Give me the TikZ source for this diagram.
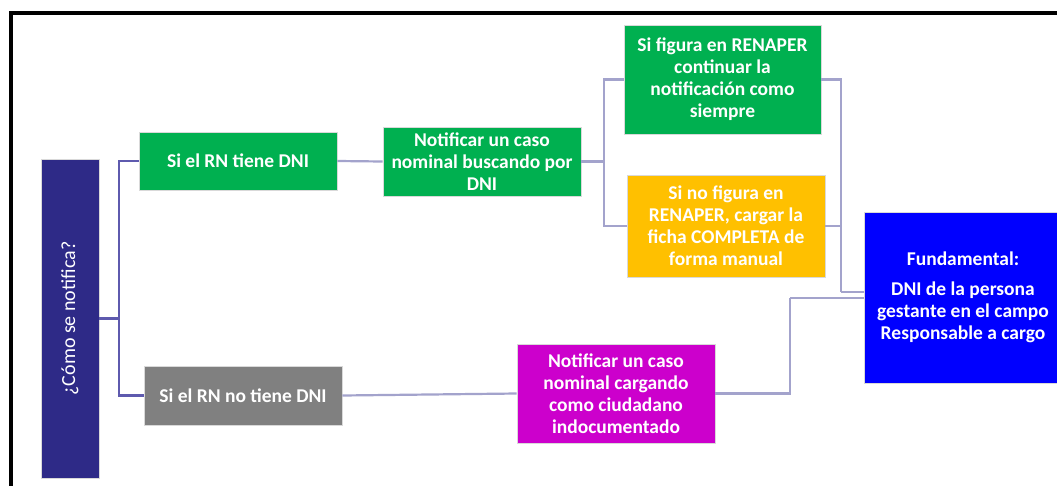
\documentclass[tikz,border=0pt]{standalone}
\usepackage{fontspec}
\setmainfont{Carlito}
\definecolor{navy}{HTML}{2E2A87}
\definecolor{grn}{HTML}{00B050}
\definecolor{gry}{HTML}{808080}
\definecolor{org}{HTML}{FFC000}
\definecolor{mag}{HTML}{CC00CC}
\definecolor{blu}{HTML}{0000FF}
\definecolor{lineA}{HTML}{5E5AAE}
\definecolor{lineB}{HTML}{A3A3CC}
\tikzset{
  box/.style={rectangle, draw=white!85!black, line width=0.6pt, text=white, align=center,
    font=\fontsize{19.5}{22}\selectfont\bfseries, inner sep=1pt},
  connA/.style={draw=lineA, line width=2.2pt},
  connB/.style={draw=lineB, line width=2.2pt},
}
\begin{document}
\begin{tikzpicture}[x=1pt,y=-1pt]
\useasboundingbox (0,0) rectangle (1057,485);
\fill[white] (0,0) rectangle (1057,485);
% frame
\draw[line width=4pt, line cap=rect] (1060,13) -- (11,13) -- (11,490);
% nodes
\node[box, fill=navy, minimum width=58pt, minimum height=319pt] (q) at (70,318.5) {};
\node[rotate=90, text=white, font=\fontsize{20}{22}\selectfont] (qt) at (q.center) {¿Cómo se notifica?};
\node[box, fill=grn, minimum width=198pt, minimum height=58pt] (a) at (238,161) {Si el RN tiene DNI};
\node[box, fill=gry, minimum width=198pt, minimum height=59pt] (b) at (243,395.5) {Si el RN no tiene DNI};
\node[box, fill=grn, minimum width=198pt, minimum height=69pt] (c) at (482,161.5) {Notificar un caso\\nominal buscando por\\DNI};
\node[box, fill=grn, minimum width=197pt, minimum height=109pt] (d) at (722.5,79.5) {Si figura en RENAPER\\continuar la\\notificación como\\siempre};
\node[box, fill=org, minimum width=198pt, minimum height=102pt] (e) at (726,226) {Si no figura en\\RENAPER, cargar la\\ficha COMPLETA de\\forma manual};
\node[box, fill=mag, minimum width=198pt, minimum height=99pt] (f) at (616,393.5) {Notificar un caso\\nominal cargando\\como ciudadano\\indocumentado};
\node[box, fill=blu, minimum width=198pt, minimum height=171pt] (g) at (963,297.5) {Fundamental:\\[8pt]DNI de la persona\\gestante en el campo\\Responsable a cargo};
% junctions
\coordinate (j1) at (119,318.5);
\coordinate (j2) at (604,161.5);
\coordinate (j3) at (841,292);
\coordinate (j4) at (790,298);
% connectors
\draw[connA] (q.east) -- (j1);
\draw[connA] (j1) |- (a.west);
\draw[connA] (j1) |- (b.west);
\draw[connB] (a.east) -- (c.west);
\draw[connB] (c.east) -- (j2);
\draw[connB] (j2) |- (d.west);
\draw[connB] (j2) |- (e.west);
\draw[connB] (d.east) -| (j3);
\draw[connB] (e.east) -| (j3);
\draw[connB] (j3) -- (j3 -| g.west);
\draw[connB] (b.east) -- (f.west);
\draw[connB] (f.east) -| (j4);
\draw[connB] (j4) -- (j4 -| g.west);
\end{tikzpicture}
\end{document}
